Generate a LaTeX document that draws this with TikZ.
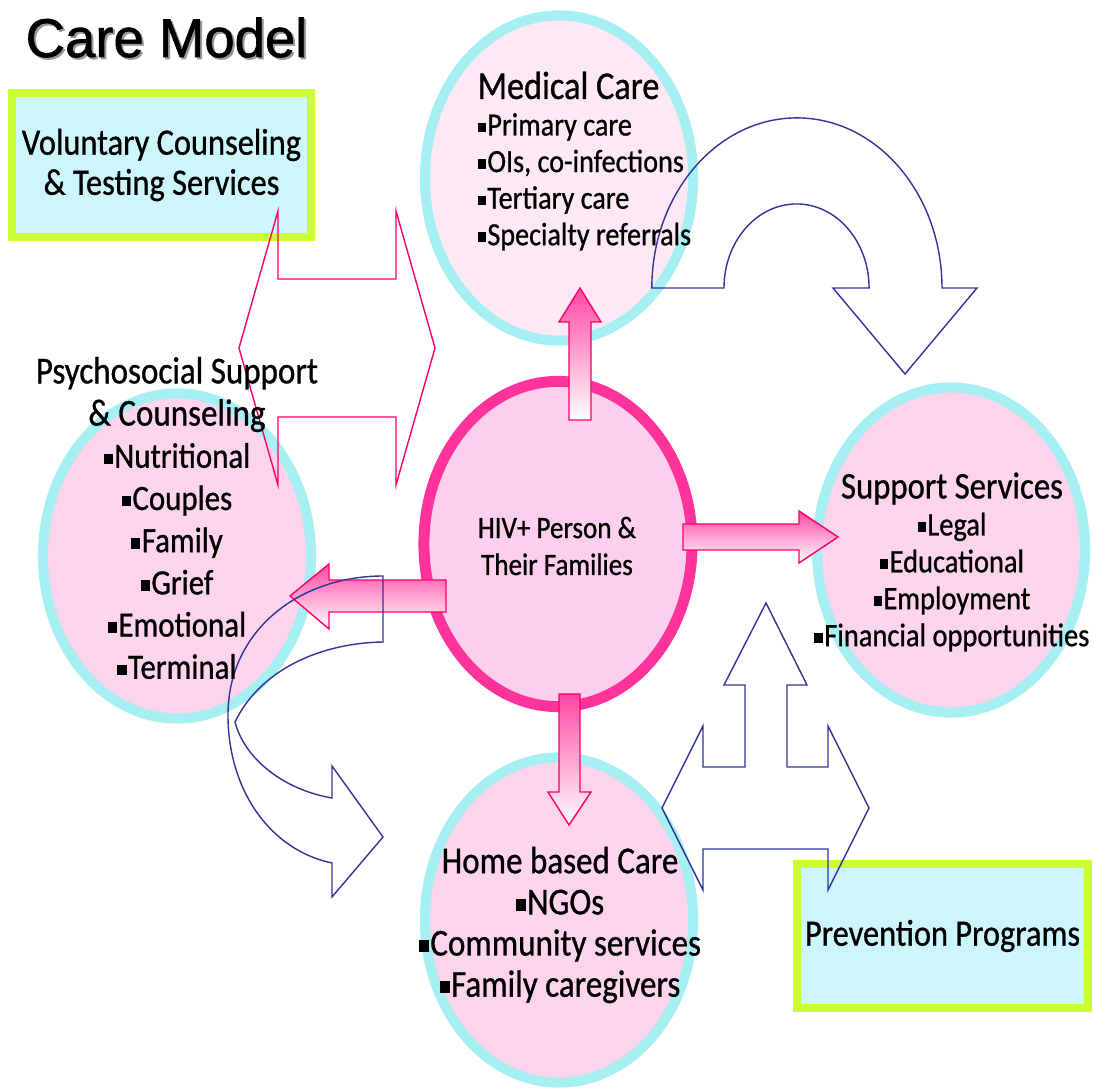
\documentclass[tikz,border=0pt]{standalone}
\usepackage{fontspec}
\setmainfont{Carlito}[FakeStretch=0.87, FakeBold=0.8]
\newfontfamily\titlefont{Liberation Sans}[FakeBold=1.2]
\usepackage{tikz}
\usetikzlibrary{shapes.geometric}

\definecolor{ringcyan}{RGB}{166,239,242}
\definecolor{bubblepink}{RGB}{252,212,236}
\definecolor{palepink}{RGB}{253,233,244}
\definecolor{hivpink}{RGB}{255,51,153}
\definecolor{hivfill}{RGB}{252,208,236}
\definecolor{boxfill}{RGB}{204,246,252}
\definecolor{boxlime}{RGB}{204,255,51}
\definecolor{outlineblue}{RGB}{51,51,153}
\definecolor{outlinered}{RGB}{255,0,102}

\newcommand{\sqbullet}{\rule[0.1em]{0.26em}{0.3em}\hspace{0.04em}}

\tikzset{
  bubble/.style={ellipse, draw=ringcyan, line width=0.1cm, fill=bubblepink,
    minimum width=2.68cm, minimum height=3.25cm, inner sep=0},
  infobox/.style={rectangle, draw=boxlime, line width=0.08cm, fill=boxfill,
    align=center, inner sep=0, font=\fontsize{10.6pt}{11.4pt}\selectfont},
  pinkarrow/.style={draw=outlinered, line width=0.4pt, top color=hivpink!90, bottom color=white},
  bluearrow/.style={draw=outlineblue, line width=0.4pt},
  redarrow/.style={draw=outlinered, line width=0.4pt}
}

\begin{document}
\begin{tikzpicture}[x=0.01cm, y=0.01cm]

    \useasboundingbox (0,0) rectangle (1093,-1088);

    % Title with shadow
    \node[anchor=base west, inner sep=0, text=black!40, font=\titlefont\fontsize{15.5pt}{18pt}\selectfont] (titleshadow) at (27,-59) {Care Model};
    \node[anchor=base west, inner sep=0, font=\titlefont\fontsize{15.5pt}{18pt}\selectfont] (title) at (25,-57) {Care Model};

    % Boxes
    \node[infobox, minimum width=2.99cm, minimum height=1.44cm] (vct) at (161.5,-165) {Voluntary Counseling\\ \& Testing Services};
    \node[infobox, minimum width=2.91cm, minimum height=1.44cm] (prevention) at (942.5,-936) {Prevention Programs};

    % Ellipses
    \node[bubble, fill=palepink] (medical) at (559,-178) {};
    \node[bubble] (psycho) at (177,-556) {};
    \node[bubble] (support) at (951,-550) {};
    \node[bubble] (home) at (559,-920) {};
    \node[bubble, draw=hivpink, line width=0.11cm, fill=hivfill] (hiv) at (558,-544) {};

    % Pink block arrows out of the centre
    \draw[pinkarrow] (569,-420) -- (569,-322) -- (559,-322) -- (580,-288) -- (601,-322) -- (591,-322) -- (591,-420) -- cycle;
    \draw[pinkarrow] (683,-524) -- (799,-524) -- (799,-511) -- (838,-537) -- (799,-563) -- (799,-550) -- (683,-550) -- cycle;
    \draw[pinkarrow] (446,-580) -- (329,-580) -- (329,-564) -- (290,-596) -- (329,-629) -- (329,-612) -- (446,-612) -- cycle;
    \draw[pinkarrow] (559,-694) -- (559,-792) -- (548,-792) -- (569,-825) -- (591,-792) -- (580,-792) -- (580,-694) -- cycle;

    % Double arrow (testing <-> medical)
    \draw[redarrow] (239,-348) -- (278,-211) -- (278,-279) -- (396,-279) -- (396,-211) -- (435,-348)
      -- (396,-485) -- (396,-417) -- (278,-417) -- (278,-485) -- cycle;

    % U-turn arrow (medical -> support)
    \draw[bluearrow] (652,-288) -- (724,-288) arc[start angle=180, end angle=0, x radius=0.725cm, y radius=0.84cm]
      -- (833,-288) -- (905,-374) -- (977,-288) -- (942,-288)
      arc[start angle=0, end angle=180, x radius=1.45cm, y radius=1.70cm] -- cycle;

    % Curved arrow (psychosocial -> home)
    \draw[bluearrow] (383,-576) -- (383,-642) .. controls (320,-643) and (260,-670) .. (235,-722)
      .. controls (245,-760) and (285,-790) .. (332,-798) -- (332,-766) -- (383,-837) -- (332,-897) -- (332,-863)
      .. controls (270,-850) and (228,-790) .. (228,-715) .. controls (228,-630) and (300,-576) .. (383,-576) -- cycle;

    % Three-way arrow (home, prevention, support)
    \draw[bluearrow] (766,-603) -- (807,-685) -- (787,-685) -- (787,-767) -- (828,-767) -- (828,-726) -- (869,-808)
      -- (828,-890) -- (828,-849) -- (703,-849) -- (703,-890) -- (662,-808) -- (703,-726) -- (703,-767)
      -- (745,-767) -- (745,-685) -- (724,-685) -- cycle;

    % Texts
    \node[anchor=west, align=left, inner sep=0, font=\fontsize{9.2pt}{10.4pt}\selectfont] (medtext) at (477,-161)
      {{\fontsize{11.2pt}{10.4pt}\selectfont Medical Care}\\ \sqbullet Primary care\\ \sqbullet OIs, co-infections\\ \sqbullet Tertiary care\\ \sqbullet Specialty referrals};
    \node[align=center, inner sep=0, font=\fontsize{8.85pt}{10.5pt}\selectfont] (hivtext) at (557,-546)
      {HIV+ Person \&\\ Their Families};
    \node[align=center, inner sep=0, font=\fontsize{9.3pt}{10.5pt}\selectfont] (supporttext) at (952,-562)
      {{\fontsize{10.7pt}{10.5pt}\selectfont Support Services}\\ \sqbullet Legal\\ \sqbullet Educational\\ \sqbullet Employment\\ \sqbullet Financial opportunities};
    \node[align=center, inner sep=0, font=\fontsize{10.1pt}{12pt}\selectfont] (psychotext) at (177,-518)
      {{\fontsize{10.8pt}{12pt}\selectfont Psychosocial Support}\\ {\fontsize{10.8pt}{12pt}\selectfont \& Counseling}\\ \sqbullet Nutritional\\ \sqbullet Couples\\ \sqbullet Family\\ \sqbullet Grief\\ \sqbullet Emotional\\ \sqbullet Terminal};
    \node[align=center, inner sep=0, font=\fontsize{10.8pt}{11.7pt}\selectfont] (hometext) at (560,-925)
      {Home based Care\\ \sqbullet NGOs\\ \sqbullet Community services\\ \sqbullet Family caregivers};

\end{tikzpicture}
\end{document}
